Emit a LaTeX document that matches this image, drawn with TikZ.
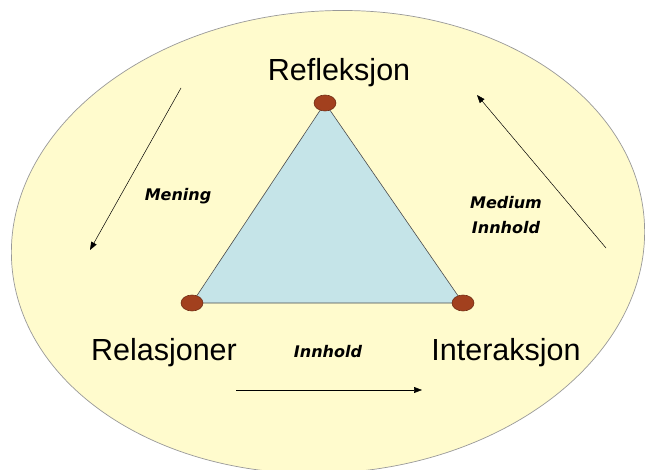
\documentclass[tikz,border=0pt]{standalone}
\usepackage{fontspec}
\setmainfont{Liberation Sans}
\newfontfamily\labfont{DejaVu Sans}
\usetikzlibrary{arrows.meta,shapes.geometric}
\definecolor{bgyellow}{HTML}{FFFBCD}
\definecolor{tri}{HTML}{C5E4E8}
\definecolor{dot}{HTML}{A2401E}
\tikzset{
  vdot/.style={ellipse,draw=dot!70!black,fill=dot,minimum width=22pt,minimum height=16pt,inner sep=0pt,line width=0.6pt},
  big/.style={font=\fontsize{30.5}{33}\selectfont,inner sep=0pt},
  small/.style={font=\labfont\fontsize{16}{25}\selectfont\bfseries\itshape,inner sep=0pt,align=center},
  flow/.style={-{Triangle[length=8pt,width=6pt]},line width=0.5pt}
}
\begin{document}
\begin{tikzpicture}[x=1pt,y=-1pt]
\useasboundingbox (0,0) rectangle (645,470);
\fill[white] (0,0) rectangle (645,470);
\begin{scope}
\clip (0,0) rectangle (645,470);
\draw[draw=gray!80,fill=bgyellow,line width=0.7pt] (328,242) ellipse [x radius=317, y radius=231, rotate=4];
\end{scope}
\coordinate (t) at (325,103);
\coordinate (l) at (192,303);
\coordinate (r) at (463,303);
\draw[fill=tri,draw=gray!60!black,line width=0.6pt] (t) -- (l) -- (r) -- cycle;
\node[vdot] (dt) at (t) {};
\node[vdot] (dl) at (l) {};
\node[vdot] (dr) at (r) {};
\node[big] (refl) at (339,73) {Refleksjon};
\node[big] (rel) at (164,353) {Relasjoner};
\node[big] (inter) at (506,353) {Interaksjon};
\node[small] (men) at (178,196) {Mening};
\node[small] (med) at (506,215) {Medium\\Innhold};
\node[small] (inn) at (328,352) {Innhold};
\coordinate (a1s) at (181,88);
\coordinate (a1e) at (90,250);
\coordinate (a2s) at (606,248);
\coordinate (a2e) at (477,95);
\coordinate (a3s) at (236,390);
\coordinate (a3e) at (422,390);
\draw[flow] (a1s) -- (a1e);
\draw[flow] (a2s) -- (a2e);
\draw[flow] (a3s) -- (a3e);
\end{tikzpicture}
\end{document}
